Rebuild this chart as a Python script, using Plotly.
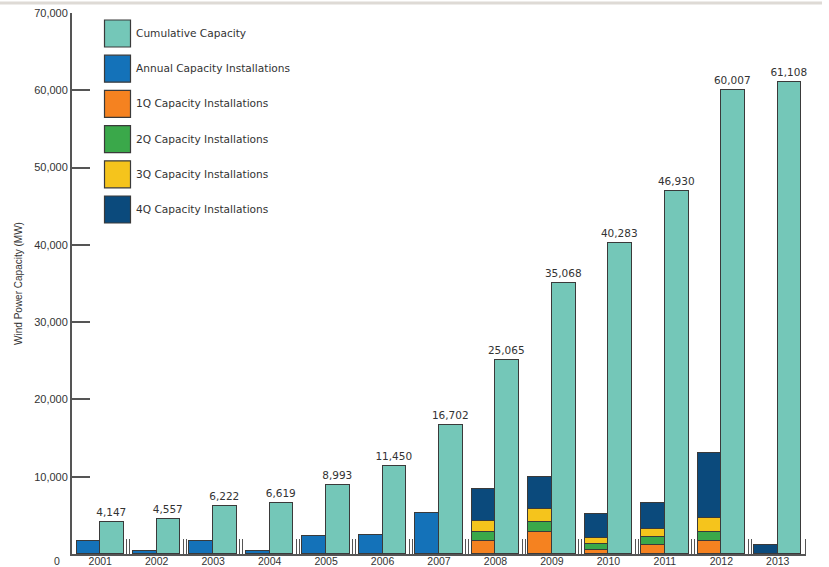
import plotly.graph_objects as go

years = list(range(2001, 2014))
year_labels = [str(y) for y in years]
cumulative = [4147, 4557, 6222, 6619, 8993, 11450, 16702, 25065, 35068, 40283, 46930, 60007, 61108]
annual = [1696, 410, 1665, 397, 2374, 2457, 5252, None, None, None, None, None, None]
q1 = [None] * 7 + [1650, 2900, 540, 1150, 1650, None]
q2 = [None] * 7 + [1150, 1250, 800, 1000, 1200, None]
q3 = [None] * 7 + [1450, 1700, 700, 1150, 1850, None]
q4 = [None] * 7 + [4110, 4150, 3175, 3350, 8380, 1101]
y_ticks = [10000, 20000, 30000, 40000, 50000, 60000, 70000]

names = ["Cumulative Capacity", "Annual Capacity Installations", "1Q Capacity Installations",
         "2Q Capacity Installations", "3Q Capacity Installations", "4Q Capacity Installations"]
colors = ["#74c7b8", "#1472b9", "#f58220", "#3aa84a", "#f5c41c", "#0b4a7c"]

W = 0.42
outline = dict(color="#3a3a3a", width=1.5)
left_x = [y - W / 2 for y in years]
right_x = [y + W / 2 for y in years]

fig = go.Figure()
for vals, nm, col in [(annual, names[1], colors[1]), (q1, names[2], colors[2]), (q2, names[3], colors[3]),
                      (q3, names[4], colors[4]), (q4, names[5], colors[5])]:
    fig.add_trace(go.Bar(x=left_x, y=vals, width=W, name=nm, marker=dict(color=col, line=outline),
                         showlegend=False))
fig.add_trace(go.Bar(x=right_x, y=cumulative, width=W, name=names[0],
                     marker=dict(color=colors[0], line=outline),
                     text=[f"{v:,}" for v in cumulative], textposition="outside",
                     constraintext="none",
                     textfont=dict(family="DejaVu Sans", size=10.5, color="#333"),
                     cliponaxis=False, showlegend=False))

# separators between year groups
minor_vals = []
for y in years[:-1]:
    minor_vals += [y + 0.5 - 0.027, y + 0.5 + 0.027]
minor_vals.append(years[-1] + 0.495)

L, R, T, B = 72, 23, 13, 13
PW, PH = 829 - L - R, 567 - T - B

def px(xp):
    return (xp - L) / PW

def py(yp):
    return (567 - B - yp) / PH

shapes = []
annotations = []
for i, (nm, col) in enumerate(zip(names, colors)):
    top = 20 + i * 35.2
    shapes.append(dict(type="rect", xref="paper", yref="paper", x0=px(104.5), x1=px(130.5),
                       y0=py(top + 27), y1=py(top), fillcolor=col, line=dict(color="#3a3a3a", width=1.2)))
    annotations.append(dict(xref="paper", yref="paper", x=px(134), y=py(top + 13), text=nm,
                            showarrow=False, xanchor="left", yanchor="middle",
                            font=dict(family="DejaVu Sans", size=10.6, color="#333")))
# top grey strip
shapes.append(dict(type="line", xref="paper", yref="paper", x0=px(0), x1=px(822), y0=py(3), y1=py(3),
                   line=dict(color="#dedad5", width=3)))
annotations.append(dict(xref="paper", yref="paper", x=px(62), y=py(561), text="0", showarrow=False,
                        xanchor="right", yanchor="middle",
                        font=dict(family="Liberation Sans", size=10.5, color="#333")))

fig.update_layout(
    width=829, height=567, barmode="stack", bargap=0,
    plot_bgcolor="white", paper_bgcolor="white",
    margin=dict(l=L, r=R, t=T, b=B, autoexpand=False),
    shapes=shapes, annotations=annotations,
    xaxis=dict(range=[2000.5, 2013.5], tickmode="array", tickvals=years, ticktext=year_labels,
               showline=True, linecolor="#555", linewidth=2, ticks="", showgrid=False, zeroline=False,
               automargin=False, ticklabelstandoff=-4,
               tickfont=dict(family="Liberation Sans", size=10.5, color="#333"),
               minor=dict(tickmode="array", tickvals=minor_vals, ticks="inside", ticklen=15,
                          tickcolor="#555", tickwidth=1.2, showgrid=False)),
    yaxis=dict(range=[0, 70000], tickmode="array", tickvals=y_ticks,
               ticktext=[f"{v:,}" for v in y_ticks], showline=True, linecolor="#555", linewidth=2,
               ticks="inside", ticklen=18, tickcolor="#555", tickwidth=1.5, showgrid=False,
               zeroline=False, automargin=False,
               tickfont=dict(family="Liberation Sans", size=11, color="#333"),
               title=dict(text="Wind Power Capacity (MW)", standoff=10,
                          font=dict(family="Liberation Sans", size=10, color="#333"))),
)
fig.write_html("out.html")
